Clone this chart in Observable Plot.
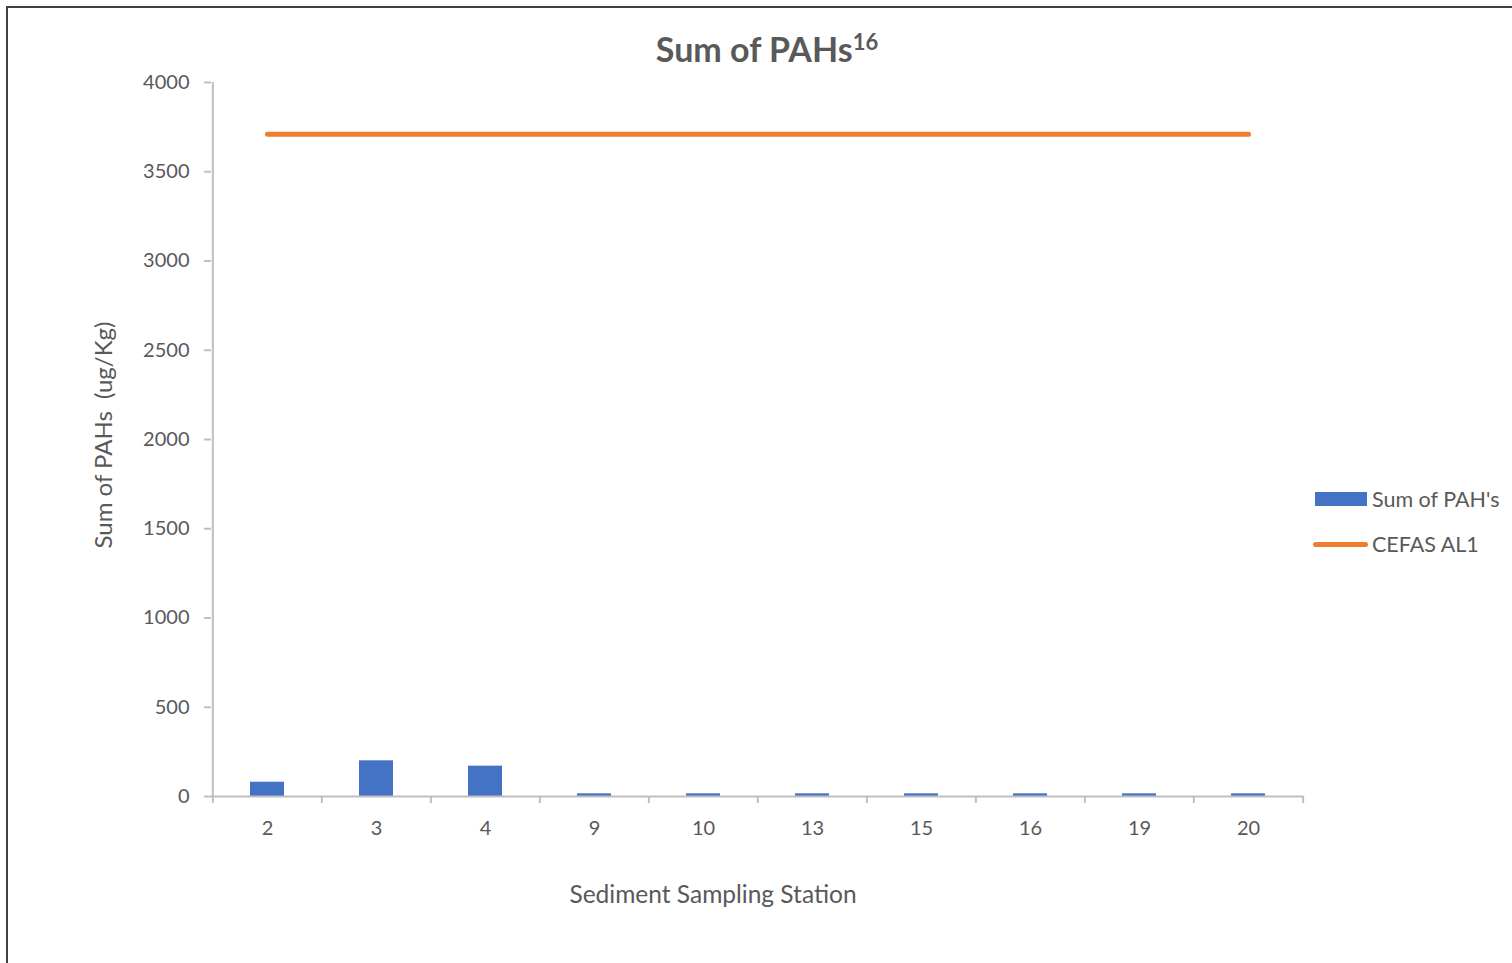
<!DOCTYPE html>
<html>
<head>
<meta charset="utf-8">
<script src="https://cdn.jsdelivr.net/npm/d3@7"></script>
<script src="https://cdn.jsdelivr.net/npm/@observablehq/plot@0.6"></script>
<style>
  html, body { margin: 0; padding: 0; width: 1512px; height: 963px; overflow: hidden; background: #fff; }
  body { position: relative; font-family: Lato, "Open Sans", sans-serif; color: #595959; }
  #border { position: absolute; left: 6px; top: 6px; width: 1540px; height: 1000px; border: 2px solid #404040; box-sizing: border-box; }
  #chart { position: absolute; left: 0; top: 0; }
  #title { position: absolute; left: 0; width: 1534px; top: 28px; text-align: center; font-size: 34px; font-weight: bold; color: #595959; }
  #title sup { font-size: 22px; }
  #ylabel { position: absolute; left: 102px; top: 435px; transform: translate(-50%, -50%) rotate(-90deg); white-space: pre; font-size: 24px; }
  #xlabel { position: absolute; left: 713px; top: 893px; transform: translate(-50%, -50%); font-size: 24.5px; white-space: nowrap; }
  .leg { position: absolute; left: 1372px; font-size: 21.5px; transform: translateY(-50%); white-space: nowrap; }
  .sw { position: absolute; }
</style>
</head>
<body>
<div id="border"></div>
<div id="chart"></div>
<div id="title">Sum of PAHs<sup>16</sup></div>
<div id="ylabel">Sum of PAHs  (ug/Kg)</div>
<div id="xlabel">Sediment Sampling Station</div>
<div class="sw" style="left:1315px; top:492px; width:52px; height:14px; background:#4472c4;"></div>
<div class="leg" style="top:499px;">Sum of PAH's</div>
<div class="sw" style="left:1313px; top:541.5px; width:55px; height:5px; border-radius:3px; background:#ed7d31;"></div>
<div class="leg" style="top:544px;">CEFAS AL1</div>
<script>
const stations = ["2", "3", "4", "9", "10", "13", "15", "16", "19", "20"];
const sumPAHs = [80, 200, 170, 15, 15, 15, 15, 15, 15, 15];
const cefasAL1 = [3710, 3710, 3710, 3710, 3710, 3710, 3710, 3710, 3710, 3710];
const yTicks = [0, 500, 1000, 1500, 2000, 2500, 3000, 3500, 4000];

const data = stations.map((s, i) => ({station: s, pah: sumPAHs[i], al1: cefasAL1[i]}));

const W = 1512, H = 900, mL = 211, mR = 208, mT = 82, mB = 104;
const step = (W - mL - mR) / stations.length;
const plotH = H - mT - mB;
const grey = "#bfbfbf";

const chart = Plot.plot({
  width: W,
  height: H,
  marginLeft: mL,
  marginRight: mR,
  marginTop: mT,
  marginBottom: mB,
  style: {fontFamily: "Lato, 'Open Sans', sans-serif", fontSize: "20px", color: "#595959", background: "transparent", overflow: "visible"},
  x: {type: "band", domain: stations, paddingInner: 0.69, paddingOuter: 0.345, label: null},
  y: {domain: [0, 4000], label: null},
  marks: [
    Plot.barY(data, {x: "station", y: "pah", fill: "#4472c4"}),
    Plot.ruleY([0], {stroke: grey, strokeWidth: 2}),
    Plot.ruleX([stations[0]], {x: d => d, dx: -step / 2, stroke: grey, strokeWidth: 2}),
    Plot.ruleX(stations, {x: d => d, dx: -step / 2, stroke: grey, strokeWidth: 2, insetTop: plotH, insetBottom: -7}),
    Plot.ruleX([stations[stations.length - 1]], {x: d => d, dx: step / 2, stroke: grey, strokeWidth: 2, insetTop: plotH, insetBottom: -7}),
    Plot.lineY(data, {x: "station", y: "al1", stroke: "#ed7d31", strokeWidth: 5, strokeLinecap: "round"}),
    Plot.axisY({ticks: yTicks, tickSize: 7, tickPadding: 15, stroke: grey, strokeWidth: 2, fill: "#595959", label: null, tickFormat: d => String(d)}),
    Plot.axisX({tickSize: 0, tickPadding: 24, fill: "#595959", label: null})
  ]
});
document.getElementById("chart").appendChild(chart);
</script>
</body>
</html>
